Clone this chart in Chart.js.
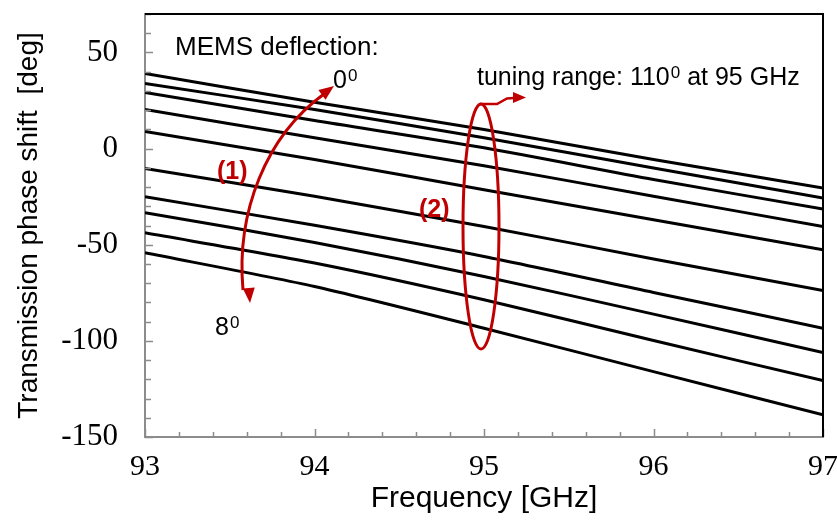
<!DOCTYPE html>
<html>
<head>
<meta charset="utf-8">
<script src="https://cdn.jsdelivr.net/npm/chart.js@4.4.0/dist/chart.umd.min.js"></script>
<style>
  html, body { margin: 0; padding: 0; background: #fff; }
  #wrap { width: 837px; height: 521px; }
</style>
</head>
<body>
<div id="wrap"><canvas id="myChart"></canvas></div>
<script>
// frequency points (GHz)
const freq = [93, 94, 95, 96, 97];

// transmission phase (deg), one curve per MEMS deflection step (0 deg at top ... 8 deg at bottom)
const phase1 = [39.1, 24.1, 9.9, -5.7, -20.5];
const phase2 = [33.9, 20.3, 5.6, -10.1, -25.7];
const phase3 = [29.2, 14.6, 0.4, -16.1, -31.4];
const phase4 = [20.3, 5.6, -8.9, -24.8, -40.5];
const phase5 = [8.9, -5.7, -21.4, -37.0, -52.6];
const phase6 = [-10.4, -24.8, -40.5, -57.4, -73.8];
const phase7 = [-25.0, -39.9, -56.1, -74.8, -93.4];
const phase8 = [-33.3, -48.8, -66.5, -86.1, -106.1];
const phase9 = [-43.8, -59.5, -78.6, -99.8, -120.7];
const phase10 = [-54.2, -71.7, -93.4, -116.0, -138.5];

const curves = [phase1, phase2, phase3, phase4, phase5, phase6, phase7, phase8, phase9, phase10];

const xTicks = [93, 94, 95, 96, 97];
const yTicks = [-150, -100, -50, 0, 50];

const RED = '#c00000';
const SANS = '"Liberation Sans", Arial, sans-serif';
const SERIF = '"Liberation Serif", "Times New Roman", serif';

function supText(ctx, base, sup, x, y, size) {
    ctx.font = size + 'px ' + SANS;
    ctx.fillText(base, x, y);
    const w = ctx.measureText(base).width;
    ctx.font = Math.round(size * 0.66) + 'px ' + SANS;
    ctx.fillText(sup, x + w + 1, y - size * 0.3);
    return x + w + 1 + ctx.measureText(sup).width;
}

function arrowHead(ctx, tipX, tipY, dx, dy, len, half) {
    const d = Math.hypot(dx, dy);
    const ux = dx / d, uy = dy / d;
    const bx = tipX - ux * len, by = tipY - uy * len;
    ctx.beginPath();
    ctx.moveTo(tipX, tipY);
    ctx.lineTo(bx - uy * half, by + ux * half);
    ctx.lineTo(bx + uy * half, by - ux * half);
    ctx.closePath();
    ctx.fill();
}

const decorations = {
    id: 'decorations',
    afterDraw(chart) {
        const ctx = chart.ctx;
        const {left, right, top, bottom} = chart.chartArea;
        const xs = chart.scales.x, ys = chart.scales.y;
        ctx.save();

        // minor / major ticks inside the plot
        ctx.strokeStyle = '#8c8c8c';
        ctx.lineWidth = 1.5;
        ctx.beginPath();
        for (let v = -150; v <= 70; v += 10) {
            const py = Math.round(ys.getPixelForValue(v)) + 0.5;
            ctx.moveTo(left, py);
            ctx.lineTo(left + (v % 50 === 0 ? 8 : 6), py);
        }
        for (let i = 0; i <= 20; i++) {
            const px = Math.round(xs.getPixelForValue(93 + i * 0.2)) + 0.5;
            ctx.moveTo(px, bottom);
            ctx.lineTo(px, bottom - (i % 5 === 0 ? 8 : 5));
        }
        ctx.stroke();

        // black frame on top and right
        ctx.strokeStyle = '#000';
        ctx.lineWidth = 2;
        ctx.beginPath();
        ctx.moveTo(left, top);
        ctx.lineTo(right, top);
        ctx.lineTo(right, bottom);
        ctx.stroke();

        // text annotations
        ctx.fillStyle = '#000';
        ctx.textBaseline = 'alphabetic';
        ctx.textAlign = 'left';
        ctx.font = '26px ' + SANS;
        ctx.fillText('MEMS deflection:', 175, 55);
        supText(ctx, '0', '0', 333, 88, 25);
        supText(ctx, '8', '0', 215, 335, 25);
        const endX = supText(ctx, 'tuning range: 110', '0', 477, 85, 25);
        ctx.font = '25px ' + SANS;
        ctx.fillText(' at 95 GHz', endX, 85);

        // red annotations
        ctx.fillStyle = RED;
        ctx.strokeStyle = RED;
        ctx.font = 'bold 25px ' + SANS;
        ctx.fillText('(1)', 217, 179);
        ctx.fillText('(2)', 419, 217);

        ctx.lineWidth = 3;
        ctx.beginPath();
        ctx.moveTo(243, 290);
        ctx.bezierCurveTo(236, 212, 266, 136, 324, 94);
        ctx.stroke();
        arrowHead(ctx, 334, 86, 58, -43, 15, 6);
        arrowHead(ctx, 250, 303, 6, 75, 15, 6);

        ctx.beginPath();
        ctx.ellipse(481, 226.5, 18, 122.5, 0, 0, Math.PI * 2);
        ctx.stroke();

        ctx.lineWidth = 2.5;
        ctx.beginPath();
        ctx.moveTo(480, 104);
        ctx.lineTo(497, 104);
        ctx.lineTo(507, 98.5);
        ctx.lineTo(514, 98);
        ctx.stroke();
        arrowHead(ctx, 526, 97.5, 1, 0, 13, 5.5);

        ctx.restore();
    }
};

const data = {
    datasets: curves.map((c, i) => ({
        label: 'curve ' + (i + 1),
        data: freq.map((f, j) => ({x: f, y: c[j]})),
        borderColor: '#000',
        borderWidth: 3,
        pointRadius: 0,
        tension: 0.25,
        fill: false
    }))
};

const config = {
    type: 'line',
    data: data,
    options: {
        responsive: true,
        maintainAspectRatio: false,
        animation: false,
        layout: {
            padding: {top: 14, right: 14, left: 0, bottom: 0}
        },
        plugins: {
            legend: {display: false},
            tooltip: {enabled: false}
        },
        scales: {
            x: {
                type: 'linear',
                min: 93,
                max: 97,
                afterBuildTicks: (scale) => { scale.ticks = xTicks.map(v => ({value: v})); },
                afterFit: (scale) => { scale.height = 84; scale.paddingLeft = 0; scale.paddingRight = 0; },
                grid: {drawOnChartArea: false, drawTicks: false},
                border: {color: '#8c8c8c', width: 2},
                ticks: {
                    color: '#000',
                    padding: 12,
                    font: {family: SERIF, size: 30}
                },
                title: {
                    display: true,
                    text: 'Frequency [GHz]',
                    color: '#000',
                    padding: {top: 4, bottom: 4},
                    font: {family: SANS, size: 30}
                }
            },
            y: {
                type: 'linear',
                min: -150,
                max: 70,
                afterBuildTicks: (scale) => { scale.ticks = yTicks.map(v => ({value: v})); },
                afterFit: (scale) => { scale.width = 145; scale.paddingTop = 0; scale.paddingBottom = 0; },
                grid: {drawOnChartArea: false, drawTicks: false},
                border: {color: '#8c8c8c', width: 2},
                ticks: {
                    color: '#000',
                    padding: 27,
                    font: {family: SERIF, size: 31}
                },
                title: {
                    display: true,
                    text: 'Transmission phase shift  [deg]',
                    color: '#000',
                    padding: {top: 12, bottom: 12},
                    font: {family: SANS, size: 28}
                }
            }
        }
    },
    plugins: [decorations]
};

const myChart = new Chart(document.getElementById('myChart'), config);
</script>
</body>
</html>
